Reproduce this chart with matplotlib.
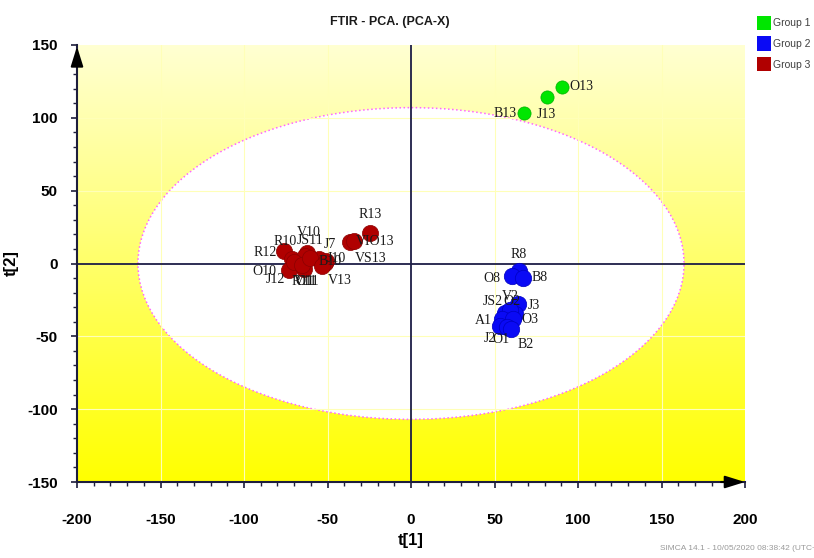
import numpy as np
import matplotlib.pyplot as plt
from matplotlib.patches import Ellipse, Rectangle
from matplotlib.ticker import MultipleLocator
from matplotlib.colors import LinearSegmentedColormap

# PCA scores t[1], t[2] for each group
group1_names = ['B13', 'J13', 'O13']
group1_t1 = [67.7, 81.2, 90.2]
group1_t2 = [103.2, 114.6, 121.3]

group2_names = ['R8', 'O8', 'B8', 'J3', 'JS2', 'O2', 'V2', 'A1', 'O3', 'J2', 'O1', 'B2']
group2_t1 = [64.7, 60.3, 67.3, 64.3, 56.3, 62.3, 59.5, 54.3, 61.3, 53.3, 57.7, 60.1]
group2_t2 = [-5.2, -8.6, -9.8, -27.6, -33.8, -34.9, -32.0, -38.4, -38.1, -43.0, -43.6, -45.0]

group3_names = ['R13', 'VIO13', 'VS13', 'R10', 'R12', 'V10', 'JS11', 'J7', 'O10',
                'J12', 'V11', 'R11', 'O11', 'B10', 'J10', 'V13']
group3_t1 = [-24.4, -36.4, -34.4, -76.3, -71.3, -62.3, -63.3, -55.3, -73.3,
             -70.3, -64.3, -65.3, -60.3, -51.0, -51.7, -53.3]
group3_t2 = [21.2, 14.8, 15.5, 8.6, 2.9, 7.4, 5.2, 2.9, -4.7,
             1.2, -4.0, -1.0, 4.0, 1.7, 0.3, -1.7]

# Hotelling T2 ellipse half-axes
ell_t1 = 163.5
ell_t2 = 107.0

# where each observation name sits relative to its marker (pixels)
label_offsets = {
    'B13': (-19, 0), 'J13': (0, -18), 'O13': (20, 0),
    'R8': (0, 17), 'O8': (-20, -2), 'B8': (16, 0), 'J3': (15, -2),
    'JS2': (-12, 11), 'O2': (-3, 13), 'V2': (0, 14), 'A1': (-18, -1),
    'O3': (17, -1), 'J2': (-10, -12), 'O1': (-6, -12), 'B2': (14, -15),
    'R13': (0, 18), 'VIO13': (25, 0), 'VS13': (17, -18), 'R10': (2, 9),
    'R12': (-27, 7), 'V10': (2, 20), 'JS11': (5, 15), 'J7': (11, 15),
    'O10': (-24, -1), 'J12': (-18, -18), 'V11': (2, -12), 'R11': (1, -17),
    'O11': (-3, -24), 'B10': (4, 0), 'J10': (12, 5), 'V13': (18, -15),
}

groups = [
    ('Group 1', group1_names, group1_t1, group1_t2, '#00E600', '#00B000', 90),
    ('Group 2', group2_names, group2_t1, group2_t2, '#0A0AF5', '#0000C0', 140),
    ('Group 3', group3_names, group3_t1, group3_t2, '#B00000', '#8A0000', 135),
]

plt.rcParams['axes.unicode_minus'] = False
sans = ['Liberation Sans', 'DejaVu Sans']
serif = ['Liberation Serif', 'DejaVu Serif']

fig = plt.figure(figsize=(8.14, 5.58), dpi=100)
ax = fig.add_axes([77 / 814, 76 / 558, 668 / 814, 437 / 558])

# pale-to-bright yellow background
cmap = LinearSegmentedColormap.from_list('yel', ['#FFFF00', '#FFFFD2'])
grad = np.linspace(0, 1, 256).reshape(-1, 1)
ax.imshow(grad, extent=[-200, 200, -150, 150], origin='lower', aspect='auto',
          cmap=cmap, zorder=0)

ax.add_patch(Ellipse((0, 0), 2 * ell_t1, 2 * ell_t2, facecolor='white',
                     edgecolor='#FF66FF', linestyle=':', linewidth=1.1, zorder=1))

for v in [-150, -100, -50, 50, 100, 150]:
    ax.axvline(v, color='#FFFFB8', lw=0.8, zorder=1.5)
for h in [-100, -50, 50, 100]:
    ax.axhline(h, color='#FFFFB8', lw=0.8, zorder=1.5)

ax.axvline(0, color='#1E1E46', lw=1.3, zorder=2)
ax.axhline(0, color='#1E1E46', lw=1.3, zorder=2)

for gname, names, t1, t2, fc, ec, size in groups:
    ax.scatter(t1, t2, s=size, color=fc, edgecolors=ec, linewidths=0.5, zorder=3)
    for n, x, y in zip(names, t1, t2):
        ax.annotate(n, (x, y), xytext=label_offsets[n], textcoords='offset pixels',
                    ha='center', va='center', fontsize=10, family=serif,
                    color='#1A1A1A', zorder=4)

ax.set_xlim(-200, 200)
ax.set_ylim(-150, 150)
ax.xaxis.set_major_locator(MultipleLocator(50))
ax.xaxis.set_minor_locator(MultipleLocator(10))
ax.yaxis.set_major_locator(MultipleLocator(50))
ax.yaxis.set_minor_locator(MultipleLocator(10))

for s in ['top', 'right']:
    ax.spines[s].set_visible(False)
for s in ['left', 'bottom']:
    ax.spines[s].set_color('#1E1E3C')
    ax.spines[s].set_linewidth(1.5)

ax.tick_params(which='major', length=4, width=1.2, color='#1E1E3C')
ax.tick_params(which='minor', length=3, width=1.0, color='#1E1E3C')
ax.tick_params(axis='x', which='major', pad=18)
ax.tick_params(axis='y', which='major', pad=10)
for lab in ax.get_xticklabels() + ax.get_yticklabels():
    lab.set_family(sans)
    lab.set_fontweight('bold')
    lab.set_fontsize(11)

# arrow heads on the two axis lines
ax.annotate('', xy=(0, 1.003), xytext=(0, 0.95), xycoords='axes fraction',
            arrowprops=dict(arrowstyle='-|>,head_length=0.8,head_width=0.25',
                            color='black', lw=1.5, mutation_scale=15), annotation_clip=False)
ax.annotate('', xy=(1.004, 0), xytext=(0.96, 0), xycoords='axes fraction',
            arrowprops=dict(arrowstyle='-|>,head_length=0.8,head_width=0.25',
                            color='black', lw=1.5, mutation_scale=15), annotation_clip=False)

ax.set_xlabel('t[1]', fontsize=12, fontweight='bold', family=sans, labelpad=5)
ax.set_ylabel('t[2]', fontsize=12, fontweight='bold', family=sans, labelpad=6)

fig.text(390 / 814, 1 - 22 / 558, 'FTIR - PCA. (PCA-X)', ha='center', va='center',
         fontsize=9, fontweight='bold', family=sans, color='#1A1A1A')

# group legend in the top-right corner
for i, (gname, names, t1, t2, fc, ec, size) in enumerate(groups):
    ytop = 16 + i * 20.5
    fig.patches.append(Rectangle((757 / 814, 1 - (ytop + 14) / 558), 14 / 814, 14 / 558,
                                 transform=fig.transFigure, facecolor=fc,
                                 edgecolor='none'))
    fig.text(773 / 814, 1 - (ytop + 7.5) / 558, gname, ha='left', va='center',
             fontsize=7.5, family=sans, color='#404040')

fig.text(660 / 814, 1 - 548 / 558, 'SIMCA 14.1 - 10/05/2020 08:38:42 (UTC+2',
         ha='left', va='center', fontsize=6, family=sans, color='#9A9A9A')

fig.savefig('out.png', dpi=100)
